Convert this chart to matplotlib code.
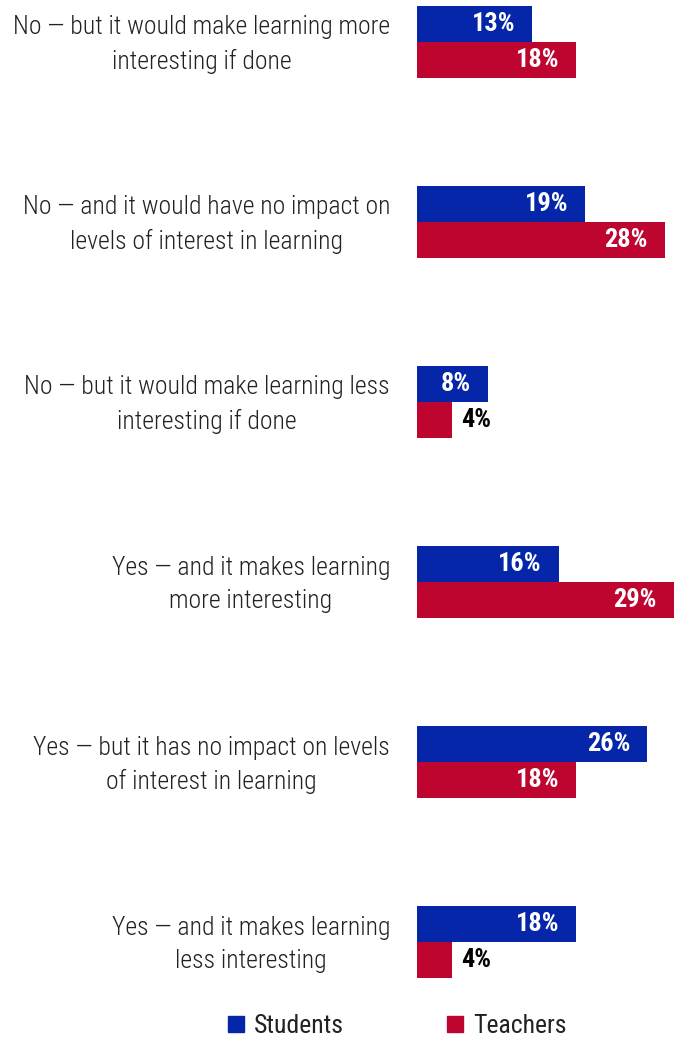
import numpy as np
import matplotlib
matplotlib.use('Agg')
import matplotlib.pyplot as plt
from matplotlib import font_manager
from matplotlib.patches import Patch

categories = [
    "No \u2014 but it would make learning more\ninteresting if done",
    "No \u2014 and it would have no impact on\nlevels of interest in learning",
    "No \u2014 but it would make learning less\ninteresting if done",
    "Yes \u2014 and it makes learning\nmore interesting",
    "Yes \u2014 but it has no impact on levels\nof interest in learning",
    "Yes \u2014 and it makes learning\nless interesting",
]
students = [13, 19, 8, 16, 26, 18]
teachers = [18, 28, 4, 29, 18, 4]
series_names = ["Students", "Teachers"]
colors = ["#0526A8", "#BE0530"]

# pick a narrow face if one is installed
names = {f.name for f in font_manager.fontManager.ttflist}
fam = next((n for n in ["Roboto Condensed", "Liberation Sans Narrow", "DejaVu Sans Condensed", "Roboto"] if n in names), "DejaVu Sans")
plt.rcParams['font.family'] = [fam, 'DejaVu Sans']

W, H = 674, 1038
fig = plt.figure(figsize=(W/100, H/100), dpi=100)
x0 = 417
ax = fig.add_axes([x0/W, 0, (W-x0)/W, 1])
y = np.arange(len(categories))
h = 0.2
ax.barh(y - h/2, students, height=h, color=colors[0])
ax.barh(y + h/2, teachers, height=h, color=colors[1])
ax.set_xlim(0, 29.05)
ax.set_ylim(5.533, -0.233)
ax.axis('off')

pad = 17 / 8.85  # inside padding in % units
for vals, off in [(students, -h/2), (teachers, h/2)]:
    for i, v in enumerate(vals):
        if v >= 6:
            ax.text(v - pad, i + off, f"{v}%", ha='right', va='center', color='white',
                    fontsize=19, fontweight='bold')
        else:
            ax.text(v + 1.0, i + off, f"{v}%", ha='left', va='center', color='black',
                    fontsize=19, fontweight='bold')

for i, c in enumerate(categories):
    ax.text(-27 / 8.85, i + 0.014, c, ha='right', va='center', multialignment='center',
            fontsize=18.5, color='#222222', linespacing=1.45, fontweight='light')

handles = [Patch(color=colors[0]), Patch(color=colors[1])]
fig.legend(handles, series_names, loc='center', bbox_to_anchor=(397/W, 1 - 1026/H), ncol=2,
           frameon=False, fontsize=18.5, handlelength=0.62, handleheight=0.62, handletextpad=0.4,
           columnspacing=4.0, labelcolor='#222222')

fig.savefig('out.png', dpi=100)
